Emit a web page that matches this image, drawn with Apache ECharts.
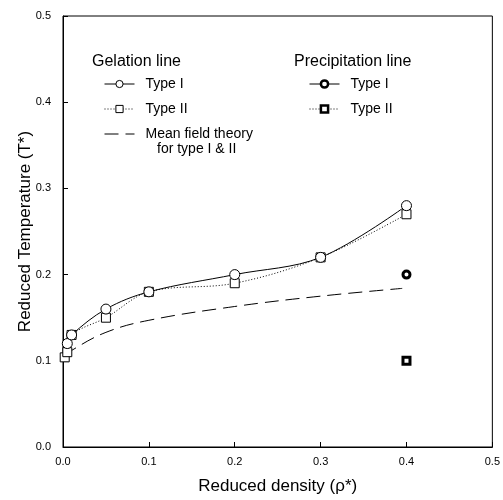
<!DOCTYPE html>
<html>
<head>
<meta charset="utf-8">
<script src="https://cdn.jsdelivr.net/npm/echarts@6/dist/echarts.min.js"></script>
<style>
  html, body { margin: 0; padding: 0; background: #fff; }
  #chart { width: 503px; height: 500px; }
</style>
</head>
<body>
<div id="chart"></div>
<script>
// gelation line, type I (open circles)
const gelTypeI = [[0.005, 0.12], [0.01, 0.13], [0.05, 0.16], [0.1, 0.18], [0.2, 0.2], [0.3, 0.22], [0.4, 0.28]]
// gelation line, type II (open squares)
const gelTypeII = [[0.002, 0.104], [0.005, 0.11], [0.01, 0.13], [0.05, 0.15], [0.1, 0.18], [0.2, 0.19], [0.3, 0.22], [0.4, 0.27]]
// mean field theory curve
const meanField = [[0.002, 0.105], [0.01, 0.112], [0.05, 0.133], [0.1, 0.147], [0.2, 0.163], [0.3, 0.175], [0.395, 0.184]]
// precipitation points
const precTypeI = [[0.4, 0.2]]
const precTypeII = [[0.4, 0.1]]
const xTicks = [0, 0.1, 0.2, 0.3, 0.4, 0.5]
const yTicks = [0, 0.1, 0.2, 0.3, 0.4, 0.5]

const font = 'Liberation Sans, Arial, sans-serif'
const legendNames = {
  'gel-I': 'Type I',
  'gel-II': 'Type II',
  'mean': 'Mean field theory',
  'prec-I': 'Type I',
  'prec-II': 'Type II'
}
const legendText = { fontFamily: font, fontSize: 14, color: '#000', padding: [0, 0, 0, 6] }

const chart = echarts.init(document.getElementById('chart'))
chart.setOption({
  animation: false,
  textStyle: { fontFamily: font, color: '#000' },
  grid: {
    left: 63,
    right: 8,
    top: 16,
    bottom: 52,
    show: true,
    borderColor: '#000',
    borderWidth: 1
  },
  title: [
    { text: 'Gelation line', left: 92, top: 54, padding: 0, textStyle: { fontFamily: font, fontSize: 16, fontWeight: 'normal', color: '#000' } },
    { text: 'Precipitation line', left: 294, top: 54, padding: 0, textStyle: { fontFamily: font, fontSize: 16, fontWeight: 'normal', color: '#000' } }
  ],
  legend: [
    {
      data: [
        { name: 'gel-I', itemStyle: { borderWidth: 1 }, lineStyle: { width: 1 } },
        { name: 'gel-II', itemStyle: { borderWidth: 1 }, lineStyle: { width: 1 } },
        { name: 'mean', itemStyle: { opacity: 0 }, lineStyle: { width: 1 } }
      ],
      orient: 'vertical',
      left: 104,
      top: 77,
      padding: 0,
      itemWidth: 30,
      itemHeight: 9,
      itemGap: 11,
      formatter: (name) => legendNames[name],
      textStyle: legendText
    },
    {
      data: [
        { name: 'prec-I', itemStyle: { borderWidth: 2.5 }, lineStyle: { width: 1 } },
        { name: 'prec-II', itemStyle: { borderWidth: 2.5 }, lineStyle: { width: 1 } }
      ],
      orient: 'vertical',
      left: 309,
      top: 77,
      padding: 0,
      itemWidth: 30,
      itemHeight: 9,
      itemGap: 11,
      formatter: (name) => legendNames[name],
      textStyle: legendText
    }
  ],
  graphic: [
    { type: 'text', left: 157, top: 142, style: { text: 'for type I & II', font: '14px ' + font, fill: '#000' } }
  ],
  xAxis: {
    type: 'value',
    min: 0,
    max: 0.5,
    interval: 0.1,
    name: 'Reduced density (ρ*)',
    nameLocation: 'middle',
    nameGap: 31,
    nameMoveOverlap: false,
    nameTextStyle: { fontFamily: font, fontSize: 17, color: '#000' },
    splitLine: { show: false },
    axisLine: { lineStyle: { color: '#000', width: 1 } },
    axisTick: { inside: true, length: 5, lineStyle: { color: '#000' } },
    axisLabel: {
      fontFamily: font, fontSize: 11, color: '#000', margin: 9,
      formatter: (v) => xTicks.includes(Math.round(v * 10) / 10) ? v.toFixed(1) : ''
    }
  },
  yAxis: {
    type: 'value',
    min: 0,
    max: 0.5,
    interval: 0.1,
    name: 'Reduced Temperature (T*)',
    nameLocation: 'middle',
    nameGap: 29,
    nameMoveOverlap: false,
    nameTextStyle: { fontFamily: font, fontSize: 17, color: '#000' },
    splitLine: { show: false },
    axisLine: { show: true, lineStyle: { color: '#000', width: 1 } },
    axisTick: { show: true, inside: true, length: 5, lineStyle: { color: '#000' } },
    axisLabel: {
      fontFamily: font, fontSize: 11, color: '#000', margin: 12,
      formatter: (v) => yTicks.includes(Math.round(v * 10) / 10) ? v.toFixed(1) : ''
    }
  },
  series: [
    {
      name: 'mean',
      type: 'line',
      data: meanField,
      smooth: 0.4,
      symbol: 'none',
      lineStyle: { color: '#000', width: 1, type: [14, 7] },
      itemStyle: { color: '#000' },
      z: 1
    },
    {
      name: 'gel-II',
      type: 'line',
      data: gelTypeII,
      smooth: 0.35,
      symbol: 'rect',
      symbolSize: 9,
      lineStyle: { color: '#000', width: 1, type: [1, 2] },
      itemStyle: { color: '#fff', borderColor: '#000', borderWidth: 1 },
      z: 2
    },
    {
      name: 'gel-I',
      type: 'line',
      data: gelTypeI,
      smooth: 0.35,
      symbol: 'circle',
      symbolSize: 10,
      lineStyle: { color: '#000', width: 1 },
      itemStyle: { color: '#fff', borderColor: '#000', borderWidth: 1 },
      z: 3
    },
    {
      name: 'prec-I',
      type: 'line',
      data: precTypeI,
      symbol: 'circle',
      symbolSize: 7,
      lineStyle: { color: '#000', width: 1 },
      itemStyle: { color: '#fff', borderColor: '#000', borderWidth: 3 },
      z: 4
    },
    {
      name: 'prec-II',
      type: 'line',
      data: precTypeII,
      symbol: 'rect',
      symbolSize: 7,
      lineStyle: { color: '#000', width: 1, type: [1, 2] },
      itemStyle: { color: '#fff', borderColor: '#000', borderWidth: 3 },
      z: 4
    }
  ]
})
</script>
</body>
</html>
